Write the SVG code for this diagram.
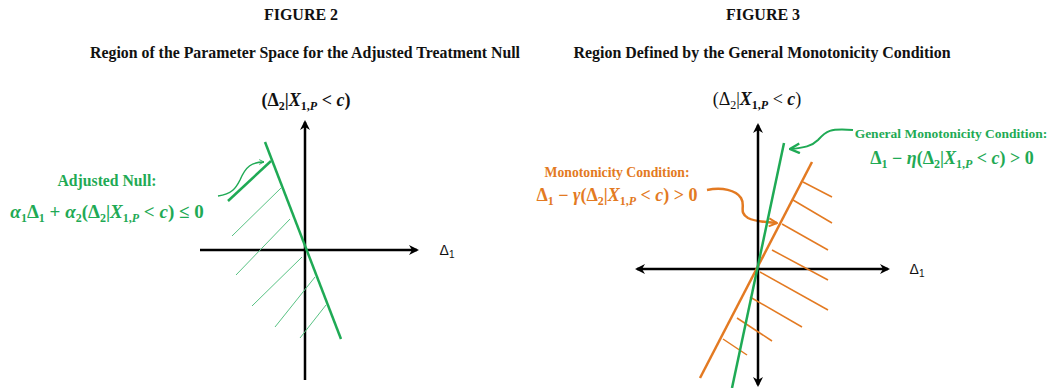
<svg xmlns="http://www.w3.org/2000/svg" width="1053" height="388" viewBox="0 0 1053 388">
<style>
.title{font-family:"Liberation Serif",serif;font-weight:bold;font-size:16px;fill:#111}
.sub{font-family:"Liberation Serif",serif;font-weight:bold;font-size:17px;fill:#111}
.math{font-family:"Liberation Serif",serif;font-weight:bold;font-size:18px}
.s{font-size:12px}
.i{font-style:italic}
.lbl{font-family:"Liberation Serif",serif;font-weight:bold;font-size:15px}
.axis{stroke:#000;stroke-width:2.5;fill:none}
.g{fill:#1faa55}
.o{fill:#e37a22}
.gl{stroke:#1faa55;stroke-width:2.5;fill:none}
.gh{stroke:#58c283;stroke-width:1;fill:none}
.ol{stroke:#e37a22;stroke-width:2.5;fill:none}
.oh{stroke:#e37a22;stroke-width:1.5;fill:none}
</style>
<defs>
<marker id="ah" viewBox="0 0 10 10" refX="8" refY="5" markerWidth="4" markerHeight="4" orient="auto-start-reverse">
<path d="M0,0 L10,5 L0,10 L3,5 Z" fill="#000"/>
</marker>
<marker id="gch" viewBox="0 0 10 10" refX="9" refY="5" markerWidth="6" markerHeight="6" orient="auto" markerUnits="userSpaceOnUse">
<path d="M1,1 L9,5 L1,9" fill="none" stroke="#1faa55" stroke-width="1.5"/>
</marker>
<marker id="gch2" viewBox="0 0 10 10" refX="9" refY="5" markerWidth="12" markerHeight="12" orient="auto" markerUnits="userSpaceOnUse">
<path d="M1,1 L9,5 L1,9" fill="none" stroke="#1faa55" stroke-width="2"/>
</marker>
<marker id="och" viewBox="0 0 10 10" refX="9" refY="5" markerWidth="10" markerHeight="10" orient="auto" markerUnits="userSpaceOnUse">
<path d="M1,1 L9,5 L1,9" fill="none" stroke="#e37a22" stroke-width="2"/>
</marker>
</defs>

<g id="figure2">
<text class="title" x="301" y="20" text-anchor="middle">FIGURE 2</text>
<text class="sub" x="305" y="58" text-anchor="middle" textLength="430" lengthAdjust="spacingAndGlyphs">Region of the Parameter Space for the Adjusted Treatment Null</text>
<g id="f2-yaxis-label">
<text class="math" x="306" y="106" text-anchor="middle" fill="#111">(Δ<tspan class="s" dy="4">2</tspan><tspan dy="-4">|</tspan><tspan class="i">X</tspan><tspan class="s" dy="4">1,</tspan><tspan class="s i">P</tspan><tspan dy="-4"> &lt; </tspan><tspan class="i">c</tspan>)</text>
</g>
<g id="f2-xaxis-label">
<text x="447" y="255" text-anchor="middle" fill="#111" style="font-family:'Liberation Sans',sans-serif;font-size:14px">Δ<tspan dy="3" style="font-size:10px">1</tspan></text>
</g>
<g id="f2-axes">
<line class="axis" x1="305" y1="380" x2="305" y2="122" marker-end="url(#ah)"/>
<line class="axis" x1="200" y1="250" x2="417" y2="250" marker-end="url(#ah)"/>
</g>
<g id="f2-null-line">
<line class="gl" x1="265" y1="142" x2="341" y2="339"/>
<g id="f2-hatch">
<line class="gh" x1="232" y1="236" x2="281" y2="188"/>
<line class="gh" x1="236" y1="275" x2="290" y2="219"/>
<line class="gh" x1="252" y1="306" x2="302" y2="257"/>
<line class="gh" x1="275" y1="327" x2="315" y2="277"/>
<line class="gh" x1="300" y1="338" x2="326" y2="305"/>
</g>
</g>
<g id="f2-label">
<text class="lbl g" x="107" y="186" text-anchor="middle" style="font-size:17px" textLength="99" lengthAdjust="spacingAndGlyphs">Adjusted Null:</text>
<text class="math g" x="107" y="218" text-anchor="middle" style="font-size:19px"><tspan class="i">α</tspan><tspan class="s" dy="4">1</tspan><tspan dy="-4">Δ</tspan><tspan class="s" dy="4">1</tspan><tspan dy="-4"> + </tspan><tspan class="i">α</tspan><tspan class="s" dy="4">2</tspan><tspan dy="-4">(Δ</tspan><tspan class="s" dy="4">2</tspan><tspan dy="-4">|</tspan><tspan class="i">X</tspan><tspan class="s" dy="4">1,</tspan><tspan class="s i">P</tspan><tspan dy="-4"> &lt; </tspan><tspan class="i">c</tspan>) ≤ 0</text>
</g>
</g>

<g id="connectors">
<line class="gl" x1="228" y1="201" x2="271" y2="161"/>
<path class="gl" style="stroke-width:1.5" d="M218,196 C232,194 236,188 240,180 C246,166 252,162 264,162" marker-end="url(#gch)"/>
<path class="gl" style="stroke-width:2" d="M853,130 C830,128 826,131 818,140 C812,146 804,148 790,149" marker-end="url(#gch2)"/>
<path class="ol" d="M707,190 C722,187 736,190 741,198 C746,206 738,212 748,218 C756,222 765,222 777,223" marker-end="url(#och)"/>
</g>

<g id="figure3">
<text class="title" x="763" y="20" text-anchor="middle">FIGURE 3</text>
<text class="sub" x="762" y="58" text-anchor="middle" textLength="377" lengthAdjust="spacingAndGlyphs">Region Defined by the General Monotonicity Condition</text>
<g id="f3-yaxis-label">
<text class="math" x="757" y="105" text-anchor="middle" fill="#111" style="font-weight:normal">(Δ<tspan class="s" dy="4">2</tspan><tspan dy="-4">|</tspan><tspan class="i" style="font-weight:bold">X</tspan><tspan class="s" dy="4" style="font-weight:bold">1,</tspan><tspan class="s i" style="font-weight:bold">P</tspan><tspan dy="-4"> &lt; </tspan><tspan class="i" style="font-weight:bold">c</tspan>)</text>
</g>
<g id="f3-xaxis-label">
<text x="917" y="274" text-anchor="middle" fill="#111" style="font-family:'Liberation Sans',sans-serif;font-size:14px">Δ<tspan dy="3" style="font-size:10px">1</tspan></text>
</g>
<g id="f3-axes">
<line class="axis" x1="758" y1="385" x2="758" y2="125" marker-start="url(#ah)" marker-end="url(#ah)"/>
<line class="axis" x1="637" y1="269" x2="888" y2="269" marker-start="url(#ah)" marker-end="url(#ah)"/>
</g>
<g id="f3-monotonicity-line">
<line class="ol" x1="812" y1="162" x2="700" y2="378"/>
<g id="f3-hatch">
<line class="oh" x1="803" y1="182" x2="832" y2="197"/>
<line class="oh" x1="793" y1="200" x2="832" y2="223"/>
<line class="oh" x1="782" y1="224" x2="828" y2="250"/>
<line class="oh" x1="772" y1="250" x2="828" y2="280"/>
<line class="oh" x1="760" y1="272" x2="828" y2="310"/>
<line class="oh" x1="750" y1="297" x2="802" y2="327"/>
<line class="oh" x1="737" y1="318" x2="772" y2="341"/>
<line class="oh" x1="723" y1="339" x2="747" y2="355"/>
</g>
</g>
<g id="f3-general-line">
<line class="gl" x1="784" y1="143" x2="732" y2="388"/>
</g>
<g id="f3-mono-label">
<text class="lbl o" x="617" y="177" text-anchor="middle" style="font-size:15px" textLength="145" lengthAdjust="spacingAndGlyphs">Monotonicity Condition:</text>
<text class="math o" x="617" y="201" text-anchor="middle"><tspan>Δ</tspan><tspan class="s" dy="4">1</tspan><tspan dy="-4"> − </tspan><tspan class="i">γ</tspan><tspan>(Δ</tspan><tspan class="s" dy="4">2</tspan><tspan dy="-4">|</tspan><tspan class="i">X</tspan><tspan class="s" dy="4">1,</tspan><tspan class="s i">P</tspan><tspan dy="-4"> &lt; </tspan><tspan class="i">c</tspan>) &gt; 0</text>
</g>
<g id="f3-general-label">
<text class="lbl g" x="951" y="138" text-anchor="middle" style="font-size:13.5px">General Monotonicity Condition:</text>
<text class="math g" x="952" y="164" text-anchor="middle"><tspan>Δ</tspan><tspan class="s" dy="4">1</tspan><tspan dy="-4"> − </tspan><tspan class="i">η</tspan><tspan>(Δ</tspan><tspan class="s" dy="4">2</tspan><tspan dy="-4">|</tspan><tspan class="i">X</tspan><tspan class="s" dy="4">1,</tspan><tspan class="s i">P</tspan><tspan dy="-4"> &lt; </tspan><tspan class="i">c</tspan>) &gt; 0</text>
</g>
</g>
</svg>
